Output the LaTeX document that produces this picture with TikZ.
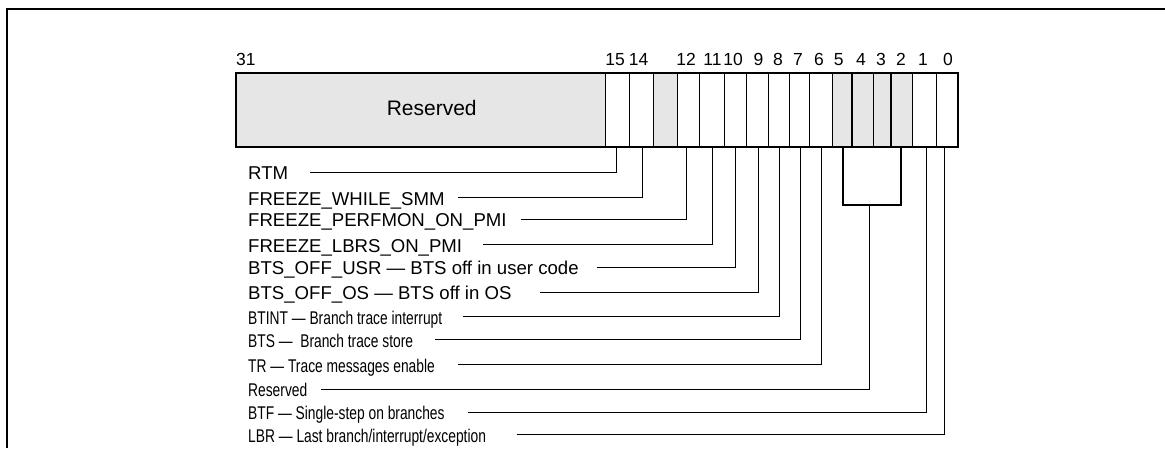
\documentclass[tikz,border=0pt]{standalone}
\usepackage{fontspec}
\setmainfont{Liberation Sans}
\newfontfamily\narrowsans[FakeStretch=0.75]{Liberation Sans}
\definecolor{ink}{HTML}{000000}
\definecolor{resv}{HTML}{E6E6E6}
\tikzset{
  frame/.style={draw=ink, line width=2pt},
  reg/.style={draw=ink, line width=1.4pt},
  cellline/.style={draw=ink, line width=0.9pt},
  thickcell/.style={draw=ink, line width=1.6pt},
  leader/.style={draw=ink, line width=0.9pt},
  bracket/.style={draw=ink, line width=1.6pt},
  bitnum/.style={anchor=base, inner sep=0pt, text=ink, font=\fontsize{17.5}{20}\selectfont},
  fieldlabel/.style={anchor=base west, inner sep=0pt, text=ink, font=\fontsize{18.6}{22}\selectfont},
  narrowlabel/.style={fieldlabel, font=\narrowsans\fontsize{18.4}{22}\selectfont},
  resvtext/.style={anchor=base, inner sep=0pt, text=ink, font=\fontsize{21}{24}\selectfont}
}
% label, its leader start and the bit it points to
\newcommand{\fieldleader}[6][fieldlabel]{%
  \node[#1] (#2) at (248,#3+7.8) {#6};
  \coordinate (#2-s) at (#4,#3);
  \draw[leader] (#2-s) -| (#5);
}

\begin{document}
\begin{tikzpicture}[x=1pt,y=-1pt]
  \useasboundingbox (0,0) rectangle (1165,448);
  \fill[white] (0,0) rectangle (1165,448);
  \draw[frame] (7,448) |- (1165,9);

  % Register cells.
  \fill[resv] (236,73) rectangle (605,147);
  \fill[resv] (653,73) rectangle (677,147);
  \fill[resv] (832,73) rectangle (912,147);
  \foreach \x in {605,629,653,677,699,724,746,768,789,809,832,873,912,936}
    \draw[cellline] (\x,73) -- (\x,147);
  \foreach \x in {852,891}
    \draw[thickcell] (\x,73) -- (\x,147);
  \draw[reg] (236,73) rectangle (958,147);
  \node[resvtext] (resvfield) at (431.7,115) {Reserved};

  % Bit numbers.
  \node[bitnum, anchor=base west] (n31) at (236,65) {31};
  \foreach \n/\x in {15/615,14/638.5,12/686,11/712.5,10/733,9/758.5,8/778,7/798,
                     6/819,5/838.7,4/861,3/881,2/901,1/923,0/948}
    \node[bitnum] (n\n) at (\x,65.5) {\n};

  % Taps at the foot of each field.
  \foreach \n/\x in {15/616.5,14/642,12/686.5,11/712.5,10/735.5,9/758.5,8/779.5,
                     7/800.3,6/821.3,5/843,2/901,1/926.7,0/944.3}
    \coordinate (b\n) at (\x,147);
  \coordinate (brk) at (869.3,204.7);
  \draw[bracket] (b5) -- (b5 |- brk) -- (b2 |- brk) -- (b2);

  % Field labels.
  \fieldleader{rtm}{172}{310}{b15}{RTM}
  \fieldleader{fwsmm}{197.3}{458}{b14}{FREEZE\_WHILE\_SMM}
  \fieldleader{fperf}{219}{521}{b12}{FREEZE\_PERFMON\_ON\_PMI}
  \fieldleader{flbrs}{244.3}{483}{b11}{FREEZE\_LBRS\_ON\_PMI}
  \fieldleader{btsusr}{267}{596.7}{b10}{BTS\_OFF\_USR — BTS off in user code}
  \fieldleader{btsos}{292}{540}{b9}{BTS\_OFF\_OS — BTS off in OS}
  \fieldleader[narrowlabel]{btint}{316.5}{462.7}{b8}{BTINT — Branch trace interrupt}
  \fieldleader[narrowlabel]{bts}{339.5}{435}{b7}{BTS — \ Branch trace store}
  \fieldleader[narrowlabel]{tr}{364.5}{458.3}{b6}{TR — Trace messages enable}
  \fieldleader[narrowlabel]{resvbits}{389}{321}{brk}{Reserved}
  \fieldleader[narrowlabel]{btf}{412}{467.7}{b1}{BTF — Single-step on branches}
  \fieldleader[narrowlabel]{lbr}{434.5}{516.7}{b0}{LBR — Last branch/interrupt/exception}

\end{tikzpicture}
\end{document}
